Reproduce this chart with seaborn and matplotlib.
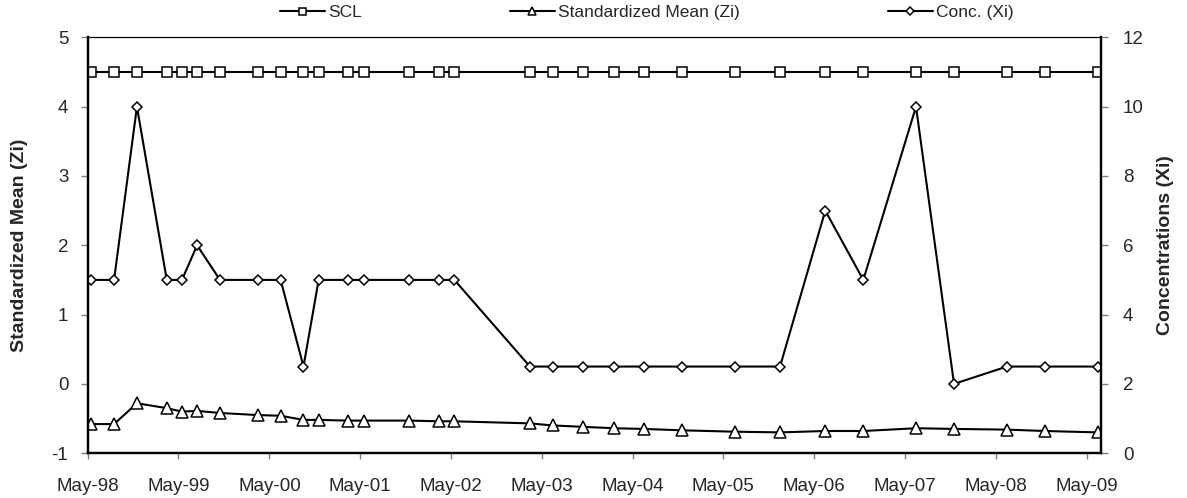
import matplotlib
matplotlib.use("Agg")
import matplotlib.pyplot as plt
from matplotlib.dates import DateFormatter
import pandas as pd
import seaborn as sns

# Sampling dates (mid-month)
dates = pd.to_datetime([
    "1998-05-15", "1998-08-15", "1998-11-15", "1999-03-15", "1999-05-15",
    "1999-07-15", "1999-10-15", "2000-03-15", "2000-06-15", "2000-09-15",
    "2000-11-15", "2001-03-15", "2001-05-15", "2001-11-15", "2002-03-15",
    "2002-05-15", "2003-03-15", "2003-06-15", "2003-10-15", "2004-02-15",
    "2004-06-15", "2004-11-15", "2005-06-15", "2005-12-15", "2006-06-15",
    "2006-11-15", "2007-06-15", "2007-11-15", "2008-06-15", "2008-11-15",
    "2009-06-15",
])

scl = [4.5] * len(dates)

zi = [
    -0.58, -0.58, -0.28, -0.35, -0.40, -0.39, -0.42, -0.45, -0.46, -0.52,
    -0.52, -0.53, -0.53, -0.53, -0.54, -0.54, -0.57, -0.60, -0.62, -0.64,
    -0.65, -0.67, -0.69, -0.70, -0.68, -0.68, -0.64, -0.65, -0.66, -0.68,
    -0.70,
]

conc = [
    5, 5, 10, 5, 5, 6, 5, 5, 5, 2.5,
    5, 5, 5, 5, 5, 5, 2.5, 2.5, 2.5, 2.5,
    2.5, 2.5, 2.5, 2.5, 7, 5, 10, 2, 2.5, 2.5,
    2.5,
]

year_ticks = pd.date_range("1998-05-01", "2009-05-01", freq="12MS")

sns.set_style("white")
plt.rcParams["font.family"] = ["Liberation Sans", "DejaVu Sans"]
plt.rcParams["axes.unicode_minus"] = False

fig, ax = plt.subplots(figsize=(11.87, 4.98), dpi=100)
fig.subplots_adjust(left=0.0739, right=0.9273, top=0.925, bottom=0.09)
ax2 = ax.twinx()

line_kw = dict(color="black", linewidth=1.5, markerfacecolor="white",
               markeredgecolor="black", markeredgewidth=1.1)

sns.lineplot(x=dates, y=scl, ax=ax, marker="s", markersize=7.2,
             label="SCL", **line_kw)
sns.lineplot(x=dates, y=zi, ax=ax, marker="^", markersize=8,
             label="Standardized Mean (Zi)", **line_kw)
sns.lineplot(x=dates, y=conc, ax=ax2, marker="D", markersize=5.2,
             label="Conc. (Xi)", **line_kw)

# axes ranges
ax.set_xlim(pd.Timestamp("1998-05-01"), pd.Timestamp("2009-06-27"))
ax.set_ylim(-1, 5)
ax2.set_ylim(0, 12)
ax.set_yticks(range(-1, 6))
ax2.set_yticks(range(0, 13, 2))
ax.set_xticks(year_ticks)
ax.xaxis.set_major_formatter(DateFormatter("%b-%y"))

ax.tick_params(axis="x", direction="out", length=4, width=1, color="#808080",
               labelsize=13.5, pad=14, bottom=True)
ax.tick_params(axis="y", direction="out", length=5, width=1, color="#808080",
               labelsize=13.5, pad=9, left=True)
ax2.tick_params(axis="y", direction="out", length=5, width=1, color="#808080",
                labelsize=13.5, pad=11, right=True)

for a in (ax, ax2):
    for side in ("left", "bottom", "right"):
        a.spines[side].set_color("black")
        a.spines[side].set_linewidth(1.6)
    a.spines["top"].set_color("black")
    a.spines["top"].set_linewidth(0.8)

ax.set_xlabel("")
ax.set_ylabel("Standardized Mean (Zi)", fontsize=14, fontweight="bold")
ax2.set_ylabel("Concentrations (Xi)", fontsize=14, fontweight="bold")
ax.yaxis.set_label_coords(-0.059, 0.5)
ax2.yaxis.set_label_coords(1.0553, 0.5)

# combined legend above the plot
h1, l1 = ax.get_legend_handles_labels()
h2, l2 = ax2.get_legend_handles_labels()
ax.get_legend().remove()
ax2.get_legend().remove()
fig.legend(h1 + h2, l1 + l2, loc="center", bbox_to_anchor=(0.545, 0.975),
           ncol=3, frameon=False, fontsize=12.5, handlelength=2.6,
           handletextpad=0.2, columnspacing=8.5, markerscale=0.7)

fig.savefig("out.png", dpi=100)
